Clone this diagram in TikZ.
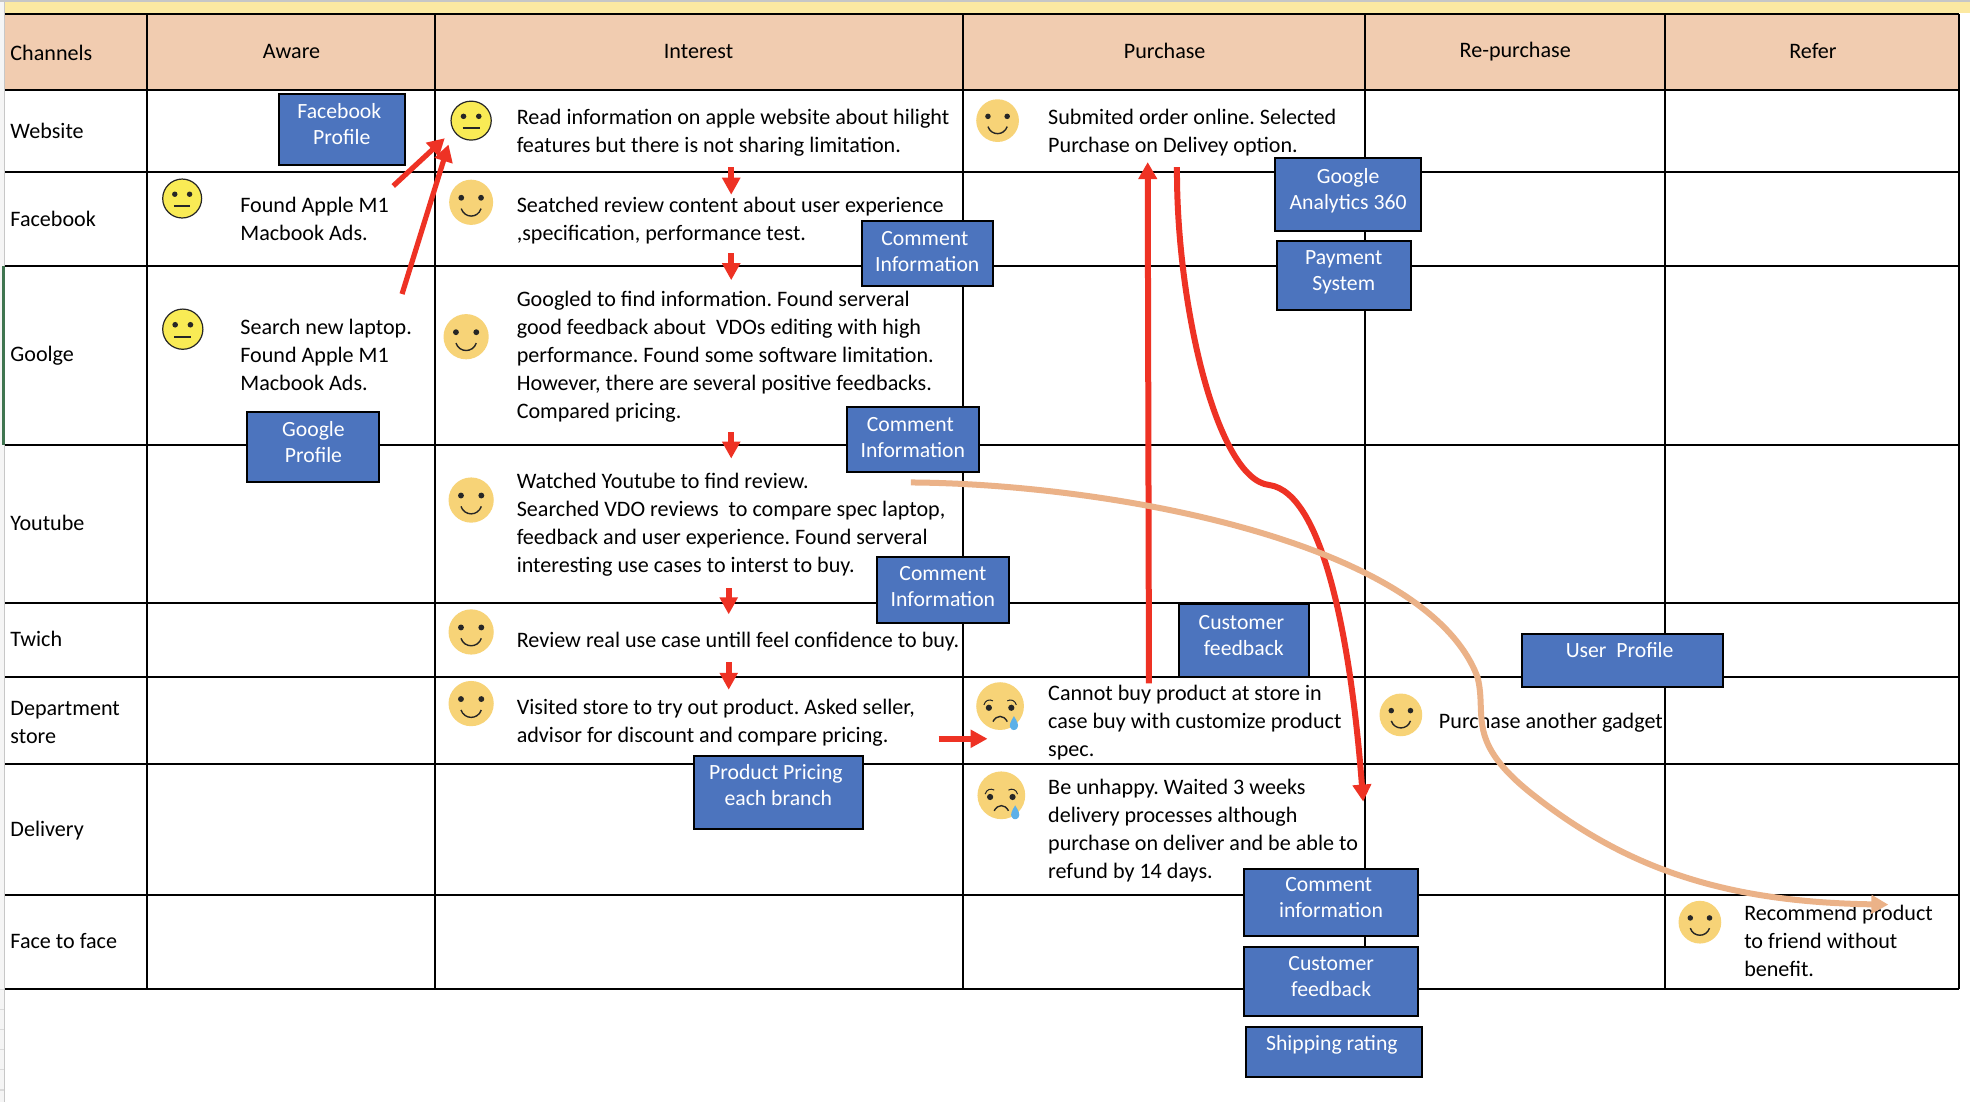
\documentclass[tikz,border=0pt]{standalone}
\usepackage{fontspec}
\setmainfont{Carlito}
\usetikzlibrary{arrows.meta}
\definecolor{hdr}{HTML}{F1CCB0}
\definecolor{band}{HTML}{FCE9A2}
\definecolor{boxblue}{HTML}{4C74BE}
\definecolor{redline}{HTML}{EE3224}
\definecolor{peach}{HTML}{EBB288}
\definecolor{facey}{HTML}{F9EB55}
\definecolor{facet}{HTML}{F7D377}
\definecolor{tear}{HTML}{5CB0E8}
\definecolor{sheetgreen}{HTML}{3F7550}
\newcommand{\bodyfont}{\fontsize{11.05}{14}\selectfont\frenchspacing}
\newcommand{\boxfont}{\fontsize{10.85}{13}\selectfont}
\newcommand{\upby}[1]{\\[\dimexpr#1-13pt\relax]\mbox{}}
\newcommand{\lft}{\hspace*{2.4pt}}
\tikzset{
  grid line/.style={line width=1pt,black},
  txt/.style={anchor=west,align=left,inner sep=0pt,font=\bodyfont,text=black,yshift=-0.8pt},
  head/.style={anchor=center,align=center,inner sep=0pt,font=\bodyfont,text=black,yshift=-0.5pt},
  bluebox/.style={draw=black,line width=1pt,fill=boxblue,text=white,align=center,inner sep=0pt,font=\boxfont},
  redarrow/.style={draw=redline,line width=3pt,-{Triangle[width=9pt,length=8.5pt]}},
  smallred/.style={draw=redline,line width=3pt,-{Triangle[width=8.7pt,length=8.5pt]}},
  peacharrow/.style={draw=peach,line width=3pt,-{Triangle[width=9pt,length=8.5pt]}}
}
\newcommand{\neutralface}[4]{\begin{scope}[shift={(#1,#2)},xscale=#3,yscale=#4]
  \draw[fill=facey,draw=black!85,line width=.6pt] (0,0) circle (1);
  \fill[black!85] (-.38,-.22) circle (.14) (.38,-.22) circle (.14);
  \draw[black!85,line width=.8pt] (-.42,.38) -- (.42,.38);
\end{scope}}
\newcommand{\smileface}[4]{\begin{scope}[shift={(#1,#2)},xscale=#3,yscale=#4]
  \fill[facet] (0,0) circle (1);
  \fill[black!85] (-.45,-.2) circle (.13) (.45,-.2) circle (.13);
  \draw[black!85,line width=.7pt] (-.45,.28) .. controls (-.3,.72) and (.3,.72) .. (.45,.28);
\end{scope}}
\newcommand{\sadface}[4]{\begin{scope}[shift={(#1,#2)},xscale=#3,yscale=#4]
  \fill[facet] (0,0) circle (1);
  \fill[black!85] (-.47,.07) circle (.13) (.47,.07) circle (.13);
  \draw[black!85,line width=.5pt] (-.68,-.05) .. controls (-.62,-.25) and (-.45,-.3) .. (-.3,-.22) (.68,-.05) .. controls (.62,-.25) and (.45,-.3) .. (.3,-.22);
  \draw[black!85,line width=.7pt] (-.3,.65) .. controls (-.15,.36) and (.15,.36) .. (.3,.65);
  \fill[tear] (.58,.42) .. controls (.72,.65) and (.8,.8) .. (.72,.92) .. controls (.65,1.03) and (.5,1.03) .. (.44,.92) .. controls (.36,.8) and (.44,.65) .. (.58,.42) -- cycle;
\end{scope}}
\begin{document}
\begin{tikzpicture}[x=0.6282pt,y=-0.6282pt]
\useasboundingbox (0,0) rectangle (1568,877);
\fill[white] (0,0) rectangle (1568,877);
% sheet edge
\fill[black!4] (0,0) rectangle (3,877);
\foreach \yy in {787,803,...,877} \fill[black!14] (0,\yy) rectangle (3,\yy+1);
\fill[black!22] (0,0) rectangle (1568,1.5);
\fill[band] (4,1.5) rectangle (1568,10.5);
\fill[black!22] (3,0) rectangle (4.2,877);
\fill[hdr] (4,11) rectangle (1559,72);
\fill[sheetgreen] (1.5,212) rectangle (4,354);
% table rules
\foreach \yy in {11,72,137,212,354,480,539,608,712,787}
  \draw[grid line] (4,\yy) -- (1559,\yy);
\foreach \xx in {117,346,766.5,1086.5,1325,1559}
  \draw[grid line] (\xx,11) -- (\xx,787);
% headers
\node[txt] (hchan) at (8,41) {Channels};
\node[head] (haware) at (232,40) {Aware};
\node[head] (hint) at (556,40) {Interest};
\node[head] (hpur) at (927,40) {Purchase};
\node[head] (hrep) at (1206,40.5) {Re-purchase};
\node[head] (href) at (1443,40) {Refer};
% channels
\node[txt] (cweb) at (8,103) {Website};
\node[txt] (cfb) at (8,173) {Facebook};
\node[txt] (cgo) at (8,282) {Goolge};
\node[txt] (cyt) at (8,415) {Youtube};
\node[txt] (ctw) at (8,507) {Twich};
\node[txt] (cdep) at (8,573.5) {Department\\store};
\node[txt] (cdel) at (8,660) {Delivery};
\node[txt] (cf2f) at (8,748) {Face to face};
% aware
\node[txt] (a1) at (191,173) {Found Apple M1\\Macbook Ads.};
\node[txt] (a2) at (191,281) {Search new laptop.\\Found Apple M1\\Macbook Ads.};
% interest
\node[txt] (i1) at (411,104) {Read information on apple website about hilight\\features but there is not sharing limitation.};
\node[txt] (i2) at (411,174) {Seatched review content about user experience\\,specification, performance test.};
\node[txt] (i3) at (411,282.5) {Googled to find information. Found serveral\\good feedback about\ \ VDOs editing with high\\performance. Found some software limitation.\\However, there are several positive feedbacks.\\Compared pricing.};
\node[txt] (i4) at (411,416) {Watched Youtube to find review.\\Searched VDO reviews\ \ to compare spec laptop,\\feedback and user experience. Found serveral\\interesting use cases to interst to buy.};
\node[txt] (i5) at (411,509) {Review real use case untill feel confidence to buy.};
\node[txt] (i6) at (411,574) {Visited store to try out product. Asked seller,\\advisor for discount and compare pricing.};
% purchase
\node[txt] (p1) at (834,104) {Submited order online. Selected\\Purchase on Delivey option.};
\node[txt] (p2) at (834,574) {Cannot buy product at store in\\case buy with customize product\\spec.};
\node[txt] (p3) at (834,660) {Be unhappy. Waited 3 weeks\\delivery processes although\\purchase on deliver and be able to\\refund by 14 days.};
\node[txt] (r1) at (1145,574) {Purchase another gadget};
\node[txt] (f1) at (1388,748) {Recommend product\\to friend without\\benefit.};
% faces
\neutralface{375}{96}{16}{15.5}
\neutralface{145}{158}{15.5}{15.5}
\neutralface{145.5}{262}{16}{16}
\smileface{375}{161}{17.5}{18}
\smileface{371}{268}{18}{18}
\smileface{375}{398}{18}{18}
\smileface{375}{503}{18}{18}
\smileface{375}{560}{18}{18}
\smileface{794}{96}{17}{17}
\smileface{1115}{569}{17}{17}
\smileface{1353}{734}{17}{17}
\sadface{796}{562}{19}{19}
\sadface{797}{633}{19}{19}
% blue boxes
\node[bluebox,minimum width=62.8pt,minimum height=35.2pt] (bfb) at (272,103) {Facebook\lft\\Profile\lft\upby{5.6pt}};
\node[bluebox,minimum width=66pt,minimum height=35.2pt] (bgp) at (249.5,356) {Google\\Profile\upby{5pt}};
\node[bluebox,minimum width=65.3pt,minimum height=32.7pt] (bc1) at (738,202) {Comment\lft\\Information\lft\upby{2.2pt}};
\node[bluebox,minimum width=66pt,minimum height=32.7pt] (bc2) at (726.5,350) {Comment\lft\\Information\lft\upby{2.2pt}};
\node[bluebox,minimum width=66pt,minimum height=33.3pt] (bc3) at (750.5,469.5) {Comment\\Information\upby{3pt}};
\node[bluebox,minimum width=72.9pt,minimum height=36.4pt] (bga) at (1073,155) {Google\\Analytics 360\upby{6pt}};
\node[bluebox,minimum width=67.2pt,minimum height=34.6pt] (bpay) at (1069.5,219.5) {Payment\\System\upby{4.8pt}};
\node[bluebox,minimum width=65.3pt,minimum height=36.4pt] (bcf1) at (990,510) {Customer\lft\\feedback\lft\upby{5.5pt}};
\node[bluebox,minimum width=100.5pt,minimum height=26.4pt] (bup) at (1291,526) {User\ \ Profile\lft\upby{11pt}};
\node[bluebox,minimum width=84.8pt,minimum height=36.4pt] (bpp) at (619.5,631) {Product Pricing\lft\\each branch\lft\upby{8pt}};
\node[bluebox,minimum width=87.3pt,minimum height=33.3pt] (bci) at (1059.5,718.5) {Comment\lft\\information\lft\upby{4.8pt}};
\node[bluebox,minimum width=87.3pt,minimum height=34.6pt] (bcf2) at (1059.5,781.5) {Customer\\feedback\upby{5pt}};
\node[bluebox,minimum width=88pt,minimum height=25.1pt] (bship) at (1062,837) {Shipping rating\lft\upby{8.8pt}};
% free ends of the connectors
\coordinate (s1) at (313,148); \coordinate (e1) at (354,110);
\coordinate (s2) at (320,234); \coordinate (e2) at (357,115);
\coordinate (d1a) at (582,133); \coordinate (d1b) at (582,155);
\coordinate (d2a) at (582,201.5); \coordinate (d2b) at (582,223);
\coordinate (d3a) at (582,344); \coordinate (d3b) at (582,365);
\coordinate (d4a) at (580,468); \coordinate (d4b) at (580,489);
\coordinate (d5a) at (580,527); \coordinate (d5b) at (580,549);
\coordinate (d6a) at (747,588); \coordinate (d6b) at (786,588);
\coordinate (up1) at (914.5,544); \coordinate (up2) at (913.5,129);
\coordinate (c1) at (936.8,133); \coordinate (c2) at (1010,386); \coordinate (c3) at (1085,638);
\coordinate (o1) at (725,384); \coordinate (o2) at (1176,539); \coordinate (o3) at (1503,720);
% connectors
\draw[redarrow,line width=2.6pt] (s1) -- (e1);
\draw[redarrow,line width=2.6pt] (s2) -- (e2);
\draw[smallred] (d1a) -- (d1b);
\draw[smallred] (d2a) -- (d2b);
\draw[smallred] (d3a) -- (d3b);
\draw[smallred] (d4a) -- (d4b);
\draw[smallred] (d5a) -- (d5b);
\draw[smallred] (d6a) -- (d6b);
\draw[redarrow] (up1) -- (up2);
\draw[redarrow] (c1) .. controls (936,240) and (968,381) .. (c2) .. controls (1055,392) and (1076,520) .. (c3);
\draw[peacharrow] (o1) .. controls (880,385) and (1135,430) .. (o2) .. controls (1184,570) and (1165,590) .. (1222,634) .. controls (1300,695) and (1380,718) .. (o3);
\end{tikzpicture}
\end{document}
